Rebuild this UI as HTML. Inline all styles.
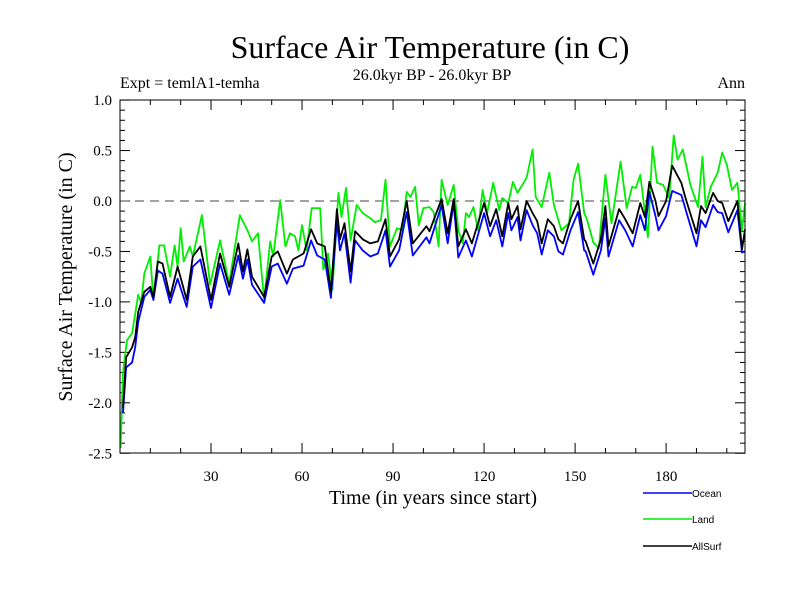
<!DOCTYPE html>
<html><head><meta charset="utf-8"><style>
body{margin:0;background:#fff;}
svg text{font-family:"Liberation Serif",serif;fill:#000;}
</style></head><body>
<svg id="chart" width="800" height="600" xmlns="http://www.w3.org/2000/svg">
<rect width="800" height="600" fill="#fff"/>
<text x="430" y="58" font-size="32" text-anchor="middle">Surface Air Temperature (in C)</text>
<text x="432" y="80" font-size="16" text-anchor="middle">26.0kyr BP - 26.0kyr BP</text>
<text x="120" y="88" font-size="16">Expt = temlA1-temha</text>
<text x="745" y="88" font-size="16" text-anchor="end">Ann</text>
<g id="axes"></g>
<g id="series"></g>
<rect x="120" y="100" width="625" height="353" fill="none" stroke="#000" stroke-width="1"/>
<text x="433" y="504" font-size="20" text-anchor="middle">Time (in years since start)</text>
<text transform="translate(72,277) rotate(-90)" font-size="20" text-anchor="middle">Surface Air Temperature (in C)</text>
<g>
<g><line x1="643" y1="493" x2="692" y2="493" stroke="#0000ff" stroke-width="1.5"/><text x="692" y="497" font-size="10" style="font-family:'Liberation Sans',sans-serif">Ocean</text></g>
<g><line x1="643" y1="519" x2="692" y2="519" stroke="#00ee00" stroke-width="1.5"/><text x="692" y="523" font-size="10" style="font-family:'Liberation Sans',sans-serif">Land</text></g>
<g><line x1="643" y1="546" x2="692" y2="546" stroke="#000" stroke-width="1.5"/><text x="692" y="550" font-size="10" style="font-family:'Liberation Sans',sans-serif">AllSurf</text></g>
</g>
</svg>
<script>
const oceanYears=[1,2,4,5,6,8,10,11,12.5,14,16.5,19,22,24,26.5,30,33,36,39,40.5,42,43.5,47.5,50,52,55,57,60.5,63,65,67.5,69.5,71.5,72.5,74,76,77.5,80,82.5,85,87.5,89,92,94.5,96.5,101,102,106,108,110,111.5,114,116,120,122,124,126,128,129,131,132,134,136,137.5,139,141,143,144.5,146,148.5,151,153,153.5,156,158.5,160,161,164.5,166.5,169,171.5,173,174.5,176.5,177.5,180,182,185,186.5,190,191.5,193,195.5,197,198.5,200.5,203.5,205,206];
const oceanValues=[-2.1,-1.65,-1.6,-1.45,-1.2,-0.95,-0.88,-0.98,-0.69,-0.72,-1.01,-0.77,-1.05,-0.65,-0.58,-1.06,-0.62,-0.93,-0.54,-0.77,-0.58,-0.83,-1.01,-0.65,-0.62,-0.82,-0.67,-0.64,-0.39,-0.54,-0.58,-0.96,-0.21,-0.49,-0.32,-0.81,-0.39,-0.49,-0.55,-0.52,-0.29,-0.65,-0.49,-0.11,-0.54,-0.36,-0.42,-0.04,-0.42,-0.02,-0.56,-0.39,-0.55,-0.12,-0.35,-0.19,-0.45,-0.12,-0.29,-0.16,-0.39,-0.09,-0.24,-0.32,-0.53,-0.29,-0.35,-0.5,-0.53,-0.29,-0.11,-0.49,-0.5,-0.73,-0.49,-0.17,-0.55,-0.19,-0.29,-0.45,-0.14,-0.29,0.09,-0.15,-0.29,-0.15,0.1,0.06,-0.09,-0.45,-0.19,-0.26,-0.04,-0.11,-0.12,-0.31,-0.09,-0.51,-0.5];
const allValues=[-2.05,-1.55,-1.45,-1.35,-1.1,-0.9,-0.85,-0.95,-0.6,-0.62,-0.95,-0.65,-0.98,-0.55,-0.45,-0.98,-0.52,-0.85,-0.42,-0.7,-0.48,-0.75,-0.95,-0.55,-0.5,-0.72,-0.58,-0.52,-0.28,-0.42,-0.45,-0.9,-0.08,-0.38,-0.22,-0.7,-0.3,-0.38,-0.42,-0.4,-0.18,-0.55,-0.38,0.0,-0.42,-0.25,-0.3,0.02,-0.32,0.02,-0.45,-0.28,-0.42,-0.02,-0.25,-0.08,-0.35,-0.02,-0.18,-0.05,-0.28,0.0,-0.12,-0.2,-0.42,-0.18,-0.25,-0.38,-0.42,-0.18,0.0,-0.38,-0.4,-0.62,-0.38,-0.05,-0.45,-0.08,-0.18,-0.32,-0.02,-0.16,0.19,0.0,-0.15,0.0,0.35,0.18,0.02,-0.32,-0.05,-0.12,0.08,0.0,-0.02,-0.2,0.0,-0.48,-0.28];
const landYears=[0.2,1,2.3,4,6,7,8,10,11,13,14.5,16.5,18,19,20,21,23,24,27,29.7,33,36,39.5,42,43.5,45.5,47.5,49.5,50.5,52.8,54.5,56,57.7,58.8,60,61.5,63.2,66,67,68.6,70,72,73,74.5,76,78,80,82.5,84,86,87.5,89,91.3,93,94.5,95.7,97.3,98.5,100,102,103.4,105,106,108,110,111.5,113,114,115,116.5,118,119.5,121,123,125,126,128,129.5,131,134,136,137,139,141.5,143,145.5,148,149.5,151,153,154,156,157.8,160,162,165,167,168.8,170,171.5,174,175.5,177,179,181,182.5,183.8,185.5,188,190.5,192,193,194.7,197,198.5,200,201.7,203.5,205,206];
const landValues=[-2.45,-1.7,-1.38,-1.31,-0.93,-1.01,-0.72,-0.55,-0.98,-0.44,-0.44,-0.75,-0.44,-0.65,-0.27,-0.6,-0.45,-0.55,-0.14,-0.83,-0.39,-0.82,-0.14,-0.29,-0.4,-0.32,-0.98,-0.4,-0.55,0.01,-0.45,-0.32,-0.35,-0.49,-0.24,-0.49,-0.07,-0.07,-0.68,-0.52,-0.88,0.08,-0.16,0.13,-0.39,-0.04,-0.12,-0.17,-0.21,-0.19,0.21,-0.45,-0.27,-0.29,0.09,0.04,0.14,-0.24,-0.07,-0.06,-0.11,-0.45,0.21,-0.04,0.16,-0.29,-0.42,-0.12,-0.16,-0.06,-0.29,0.11,-0.12,0.18,-0.09,0.03,-0.02,0.19,0.08,0.23,0.51,0.04,-0.06,0.28,-0.04,-0.29,-0.22,0.21,0.37,-0.12,-0.19,-0.41,-0.47,0.26,-0.22,0.39,-0.07,0.14,0.13,0.26,-0.36,0.54,0.18,0.16,0.03,0.65,0.41,0.51,0.16,-0.06,0.44,-0.06,0.14,0.28,0.48,0.36,0.11,0.18,-0.29,-0.02];
const xTickLabels=[30,60,90,120,150,180];
const yTickLabels=["-2.5","-2.0","-1.5","-1.0","-0.5","0.0","0.5","1.0"];

const NS="http://www.w3.org/2000/svg";
function xs(t){return 120+t*625/206;}
function ys(v){return 201-v*100.9;}
const axes=document.getElementById('axes');
function mk(tag,attrs,parent){const e=document.createElementNS(NS,tag);for(const k in attrs)e.setAttribute(k,attrs[k]);parent.appendChild(e);return e;}
for(let t=10;t<206;t+=10){
  const L=(t%30===0)?10:5;
  const a=mk('line',{x1:xs(t),x2:xs(t),y1:453,y2:453-L,stroke:'#000'},axes);
  
  
  const b=mk('line',{x1:xs(t),x2:xs(t),y1:100,y2:100+L,stroke:'#000'},axes);
  
  
}
for(let i=-25;i<=10;i++){
  const v=i/10;const L=(i%5===0)?10:5;
  const a=mk('line',{x1:120,x2:120+L,y1:ys(v),y2:ys(v),stroke:'#000'},axes);
  
  
  const b=mk('line',{x1:745,x2:745-L,y1:ys(v),y2:ys(v),stroke:'#000'},axes);
  
  
}
xTickLabels.forEach(t=>{
  const e=mk('text',{x:xs(t),y:481,'font-size':15,'text-anchor':'middle'},axes);
  e.textContent=t;
  
  
});
yTickLabels.forEach(s=>{
  const e=mk('text',{x:112,y:ys(parseFloat(s))+5,'font-size':15,'text-anchor':'end'},axes);
  e.textContent=s;
  
  
});
const zl=mk('line',{x1:120,x2:745,y1:ys(0),y2:ys(0),stroke:'#444','stroke-dasharray':'9,6'},axes);


const ser=document.getElementById('series');
function line(yrs,vals,color,name){
  const pts=yrs.map((t,i)=>xs(t).toFixed(1)+','+ys(vals[i]).toFixed(1)).join(' ');
  const p=mk('polyline',{points:pts,fill:'none',stroke:color,'stroke-width':1.8,'stroke-linejoin':'round'},ser);
  
  
}
line(landYears,landValues,'#00ee00','land-line');
line(oceanYears,oceanValues,'#0000ff','ocean-line');
line(oceanYears,allValues,'#000000','allsurf-line');
</script>
</body></html>
